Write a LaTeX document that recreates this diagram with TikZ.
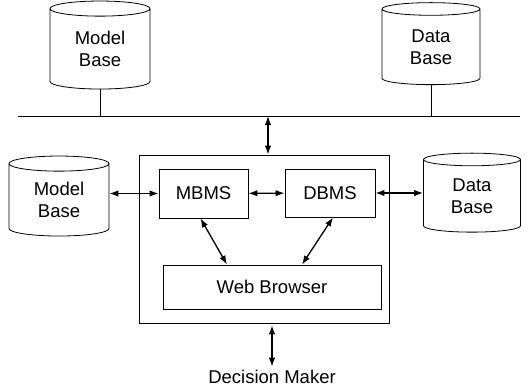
\documentclass[tikz,border=0pt]{standalone}
\usepackage{fontspec}
\setmainfont{Liberation Sans}
\usetikzlibrary{arrows.meta,positioning,shapes.geometric,calc}

\begin{document}
\begin{tikzpicture}[x=1pt, y=-1pt,
  lbl/.style={font=\fontsize{18.5}{21.5}\selectfont, align=center},
  db/.style={lbl, draw, line width=0.8pt, cylinder, shape border rotate=90, aspect=0.3, inner sep=0pt},
  mod/.style={lbl, draw, line width=0.8pt, inner sep=0pt},
  ar/.style={{Latex[length=9pt,width=6.5pt]}-{Latex[length=9pt,width=6.5pt]}, line width=1.3pt},
  ln/.style={line width=0.8pt}
]
\useasboundingbox (0,0) rectangle (531,389);

% shared stores on the network
\node[db, minimum width=100pt, minimum height=88pt] (mbTop) at (100,49) {Model\\Base};
\node[db, minimum width=98pt, minimum height=82pt] (dbTop) at (431,47) {Data\\Base};
\coordinate (busL) at (18,116);
\coordinate (busR) at (520,116);
\draw[ln] (busL) -- (busR);
\draw[ln] (mbTop.south) -- (mbTop.south |- busL);
\draw[ln] (dbTop.south) -- (dbTop.south |- busL);

% system box
\node[mod, minimum width=250pt, minimum height=168pt] (dss) at (264,239) {};
\node[mod, minimum width=89pt, minimum height=49pt] (mbms) at (203.5,193.5) {MBMS};
\node[mod, minimum width=90pt, minimum height=48pt] (dbms) at (330,193) {DBMS};
\node[mod, minimum width=218pt, minimum height=44pt] (web) at (272,287) {Web Browser};

% local stores
\node[db, minimum width=100pt, minimum height=80pt] (mbLoc) at (59,200) {Model\\Base};
\node[db, minimum width=97pt, minimum height=79pt] (dbLoc) at (472,196) {Data\\Base};

\node[lbl] (dm) at (272,377) {Decision Maker};

\coordinate (tap) at (268,116);
\draw[ar] (tap) -- (tap |- dss.north);
\draw[ar] (mbms.west -| mbLoc.east) -- (mbms.west);
\draw[ar] (mbms) -- (dbms);
\draw[ar] (dbms.east) -- (dbms.east -| dbLoc.west);
\draw[ar] ([xshift=-3pt]mbms.south) -- ([xshift=-45pt]web.north);
\draw[ar] ([xshift=3pt]dbms.south) -- ([xshift=30pt]web.north);
\draw[ar] ([yshift=-2pt]dm.north |- dss.south) -- (dm.north);
\end{tikzpicture}
\end{document}
